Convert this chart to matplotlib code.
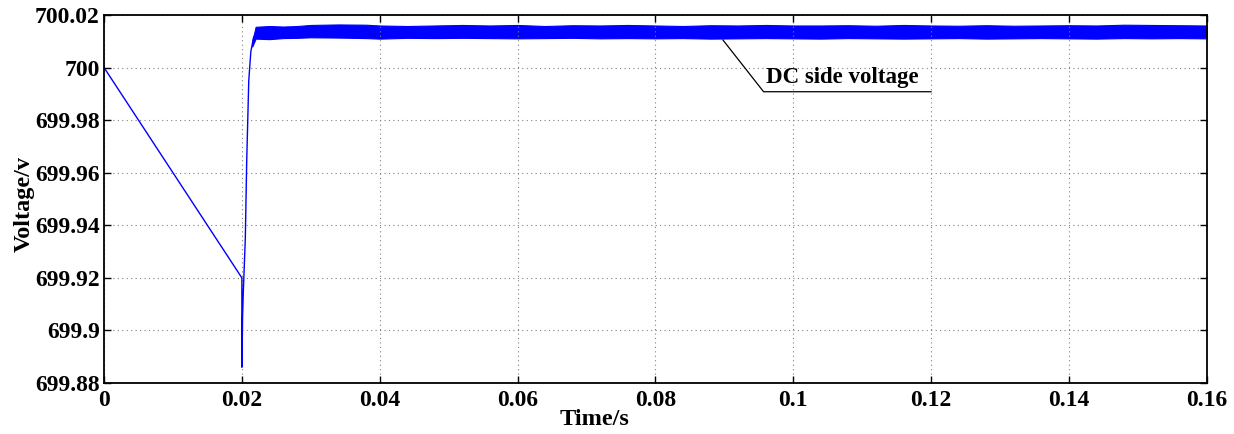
import matplotlib
matplotlib.use("Agg")
import matplotlib.pyplot as plt

plt.rcParams["font.family"] = ["Liberation Serif", "DejaVu Serif"]
plt.rcParams["font.weight"] = "bold"

# start-up transient
t_trans = [0.0, 0.02, 0.02, 0.02005, 0.0201, 0.0202, 0.0205, 0.0207, 0.021, 0.0213, 0.0217, 0.0222]
v_trans = [700.0, 699.92, 699.886, 699.893, 699.905, 699.914, 699.935, 699.964, 699.995, 700.006, 700.0115, 700.0135]

# steady-state ripple band (upper / lower envelope)
t_band = [0.0215, 0.022, 0.024, 0.026, 0.028, 0.03, 0.034, 0.038, 0.04, 0.044, 0.048, 0.052,
          0.056, 0.06, 0.064, 0.068, 0.072, 0.076, 0.08, 0.084, 0.088, 0.092, 0.096, 0.1,
          0.104, 0.108, 0.112, 0.116, 0.12, 0.124, 0.128, 0.132, 0.136, 0.14, 0.144, 0.148,
          0.152, 0.156, 0.16]
v_upper = [700.010, 700.0155, 700.0158, 700.0156, 700.0158, 700.0162, 700.0164, 700.0163, 700.0160,
           700.0158, 700.0160, 700.0162, 700.0160, 700.0162, 700.0158, 700.0161, 700.0160, 700.0162,
           700.0160, 700.0158, 700.0161, 700.0160, 700.0162, 700.0160, 700.0160, 700.0161, 700.0159,
           700.0162, 700.0160, 700.0159, 700.0161, 700.0159, 700.0160, 700.0161, 700.0160, 700.0163,
           700.0162, 700.0161, 700.0160]
v_lower = [700.008, 700.0110, 700.0108, 700.0112, 700.0113, 700.0115, 700.0114, 700.0112, 700.0110,
           700.0113, 700.0112, 700.0113, 700.0112, 700.0111, 700.0112, 700.0113, 700.0111, 700.0112,
           700.0111, 700.0112, 700.0110, 700.0111, 700.0112, 700.0111, 700.0110, 700.0112, 700.0111,
           700.0110, 700.0111, 700.0112, 700.0110, 700.0111, 700.0112, 700.0111, 700.0110, 700.0112,
           700.0111, 700.0112, 700.0111]

x_ticks = [0, 0.02, 0.04, 0.06, 0.08, 0.1, 0.12, 0.14, 0.16]
x_labels = ["0", "0.02", "0.04", "0.06", "0.08", "0.1", "0.12", "0.14", "0.16"]
y_ticks = [699.88, 699.9, 699.92, 699.94, 699.96, 699.98, 700.0, 700.02]
y_labels = ["699.88", "699.9", "699.92", "699.94", "699.96", "699.98", "700", "700.02"]

blue = "#0000ff"

fig = plt.figure(figsize=(12.34, 4.34), dpi=100)
ax = fig.add_axes([0.0843, 0.1175, 0.8936, 0.848])

ax.plot(t_trans, v_trans, color=blue, lw=1.0)
ax.fill_between(t_band, v_lower, v_upper, color=blue, lw=0.8, edgecolor=blue)

# annotation leader line and label
ax.plot([0.0898, 0.0957, 0.120], [700.0105, 699.9908, 699.9908], color="black", lw=0.9)
ax.text(0.0960, 699.9922, "DC side voltage", fontsize=16.5, fontweight="bold", va="bottom", ha="left")

ax.set_xlim(0, 0.16)
ax.set_ylim(699.88, 700.02)
ax.set_xticks(x_ticks)
ax.set_xticklabels(x_labels)
ax.set_yticks(y_ticks)
ax.set_yticklabels(y_labels)
ax.tick_params(direction="in", top=True, right=True, length=5, width=1.0, labelsize=17)
ax.tick_params(axis="y", pad=3)
ax.tick_params(axis="x", pad=5)
for lab in ax.get_xticklabels() + ax.get_yticklabels():
    lab.set_fontweight("bold")

ax.grid(True, color="#808080", linestyle=(0, (1, 3)), lw=0.8)
for sp in ax.spines.values():
    sp.set_linewidth(1.3)

ax.set_xlabel("Time/s", fontsize=17.5, fontweight="bold")
ax.xaxis.set_label_coords(0.445, -0.07)
ax.xaxis.label.set_va("top")
ax.set_ylabel("Voltage/v", fontsize=17.5, fontweight="bold")
ax.yaxis.set_label_coords(-0.063, 0.486)

fig.savefig("out.png", dpi=100)
